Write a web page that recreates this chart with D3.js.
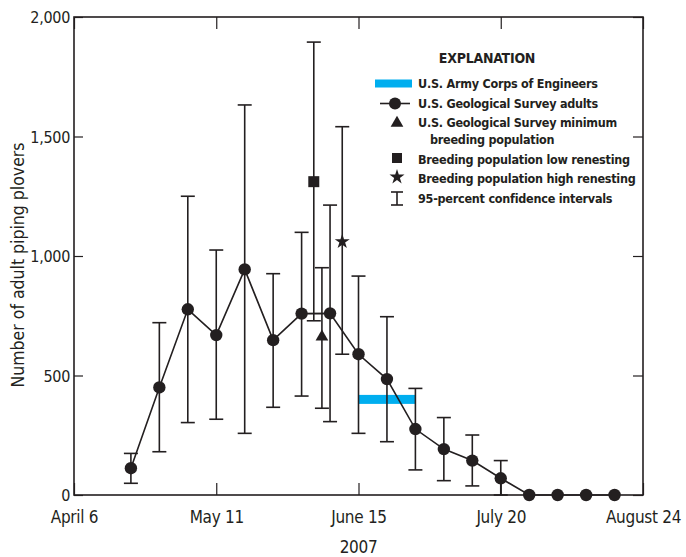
<!DOCTYPE html>
<meta charset="utf-8">
<head>
<script src="https://d3js.org/d3.v7.min.js"></script>
<style>
  body { margin: 0; background: #fff; }
  text { font-family: "Liberation Sans Narrow", "Arial Narrow", "DejaVu Sans Condensed", sans-serif; fill: #231f20; }
  .legend text { font-weight: bold; letter-spacing: -0.25px; }
</style>
</head>
<body>
<div id="chart"></div>
<script>
  // weekly survey dates and counts
  var surveyDates = ["2007-04-20", "2007-04-27", "2007-05-04", "2007-05-11", "2007-05-18", "2007-05-25",
    "2007-06-01", "2007-06-08", "2007-06-15", "2007-06-22", "2007-06-29", "2007-07-06",
    "2007-07-13", "2007-07-20", "2007-07-27", "2007-08-03", "2007-08-10", "2007-08-17"];
  var adults = [112, 450, 777, 669, 944, 648, 759, 760, 589, 485, 276, 192, 144, 70, 0, 0, 0, 0];
  var ciLow  = [49, 181, 303, 317, 258, 367, 414, 307, 258, 223, 105, 60, 38, 0, null, null, null, null];
  var ciHigh = [174, 721, 1250, 1025, 1632, 926, 1099, 1213, 916, 746, 446, 324, 251, 144, null, null, null, null];

  // single estimates: [date, value, low, high]
  var lowRenesting  = ["2007-06-04", 1311, 729, 1895];
  var minBreeding   = ["2007-06-06", 662, 363, 951];
  var highRenesting = ["2007-06-11", 1060, 589, 1541];

  // Army Corps estimate, a span of dates at one value
  var corpsStart = "2007-06-15", corpsEnd = "2007-06-29", corpsValue = 400;

  var xTicks = ["2007-04-06", "2007-05-11", "2007-06-15", "2007-07-20", "2007-08-24"];
  var yTicks = [0, 500, 1000, 1500, 2000];

  var ink = "#231f20";
  var width = 686, height = 557;
  var margin = { top: 17, right: 43, bottom: 62, left: 74 };
  var w = width - margin.left - margin.right;
  var h = height - margin.top - margin.bottom;

  var parse = d3.utcParse("%Y-%m-%d");

  var svg = d3.select("#chart").append("svg")
    .attr("width", width)
    .attr("height", height);
  var g = svg.append("g")
    .attr("transform", "translate(" + margin.left + "," + margin.top + ")");

  var x = d3.scaleUtc()
    .domain([parse(xTicks[0]), parse(xTicks[xTicks.length - 1])])
    .range([0, w]);
  var y = d3.scaleLinear().domain([0, 2000]).range([h, 0]);

  // axes, ticks pointing inward
  var fmt = d3.utcFormat("%B %-d");
  var xt = xTicks.map(parse);
  g.append("g").attr("class", "x axis")
    .attr("transform", "translate(0," + h + ")")
    .call(d3.axisBottom(x).tickValues(xt).tickSize(-12).tickSizeOuter(0).tickPadding(16).tickFormat(fmt));
  g.append("g").attr("class", "x2 axis")
    .call(d3.axisTop(x).tickValues(xt).tickSize(-12).tickSizeOuter(0).tickFormat(""));
  g.append("g").attr("class", "y axis")
    .call(d3.axisLeft(y).tickValues(yTicks).tickSize(-9).tickSizeOuter(0).tickPadding(4).tickFormat(d3.format(",")));
  g.append("g").attr("class", "y2 axis")
    .attr("transform", "translate(" + w + ",0)")
    .call(d3.axisRight(y).tickValues(yTicks).tickSize(-10).tickSizeOuter(0).tickFormat(""));

  g.selectAll(".axis .domain").remove();
  g.selectAll(".axis line").attr("stroke", ink).attr("stroke-width", 1.2);
  g.selectAll(".axis text").attr("font-size", 16).attr("fill", ink)
    .style("letter-spacing", "-0.3px")
    .style("font-family", null);
  g.selectAll(".x.axis text").attr("font-size", 17);
  g.selectAll(".y.axis text").attr("dy", "0.35em");

  g.append("rect")
    .attr("width", w).attr("height", h)
    .attr("fill", "none").attr("stroke", ink).attr("stroke-width", 1.6);

  g.append("text")
    .attr("transform", "rotate(-90)")
    .attr("x", -248).attr("y", -50)
    .attr("text-anchor", "middle")
    .attr("font-size", 17.5)
    .text("Number of adult piping plovers");

  g.append("text")
    .attr("x", x(parse("2007-06-15"))).attr("y", 536)
    .attr("text-anchor", "middle")
    .attr("font-size", 17)
    .style("letter-spacing", "-0.3px")
    .text("2007");

  // Army Corps band
  g.append("rect")
    .attr("x", x(parse(corpsStart)))
    .attr("y", y(corpsValue) - 4.5)
    .attr("width", x(parse(corpsEnd)) - x(parse(corpsStart)))
    .attr("height", 9)
    .attr("fill", "#00aeef");

  function errorBar(sel, cx, lo, hi) {
    sel.append("line").attr("x1", cx).attr("x2", cx).attr("y1", y(lo)).attr("y2", y(hi));
    sel.append("line").attr("x1", cx - 7).attr("x2", cx + 7).attr("y1", y(lo)).attr("y2", y(lo));
    sel.append("line").attr("x1", cx - 7).attr("x2", cx + 7).attr("y1", y(hi)).attr("y2", y(hi));
  }

  var bars = g.append("g").attr("stroke", ink).attr("stroke-width", 1.6);
  surveyDates.forEach(function (d, i) {
    if (ciLow[i] == null) return;
    errorBar(bars, x(parse(d)), ciLow[i], ciHigh[i]);
  });
  [lowRenesting, minBreeding, highRenesting].forEach(function (p) {
    errorBar(bars, x(parse(p[0])), p[2], p[3]);
  });

  var line = d3.line()
    .x(function (d, i) { return x(parse(surveyDates[i])); })
    .y(function (d) { return y(d); });
  g.append("path")
    .datum(adults)
    .attr("d", line)
    .attr("fill", "none")
    .attr("stroke", ink)
    .attr("stroke-width", 1.6);

  g.selectAll(".dot")
    .data(adults)
    .enter().append("circle")
    .attr("class", "dot")
    .attr("cx", function (d, i) { return x(parse(surveyDates[i])); })
    .attr("cy", function (d) { return y(d); })
    .attr("r", 6.2)
    .attr("fill", ink);

  function marker(p, type, size) {
    g.append("path")
      .attr("d", d3.symbol().type(type).size(size)())
      .attr("transform", "translate(" + x(parse(p[0])) + "," + y(p[1]) + ")")
      .attr("fill", ink);
  }
  marker(lowRenesting, d3.symbolSquare, 121);
  marker(minBreeding, d3.symbolTriangle, 70);
  marker(highRenesting, d3.symbolStar, 70);

  // legend
  var leg = svg.append("g").attr("class", "legend");
  leg.append("text").attr("x", 487).attr("y", 63).attr("text-anchor", "middle")
    .attr("font-size", 14).text("EXPLANATION");

  var rows = [
    { y: 88, label: "U.S. Army Corps of Engineers" },
    { y: 108, label: "U.S. Geological Survey adults" },
    { y: 127, label: "U.S. Geological Survey minimum" },
    { y: 144, label: "breeding population", indent: 12 },
    { y: 164, label: "Breeding population low renesting" },
    { y: 183, label: "Breeding population high renesting" },
    { y: 203, label: "95-percent confidence intervals" }
  ];
  leg.selectAll(".row").data(rows).enter().append("text")
    .attr("x", function (d) { return 418 + (d.indent || 0); })
    .attr("y", function (d) { return d.y; })
    .attr("font-size", 12.5)
    .text(function (d) { return d.label; });

  leg.append("rect").attr("x", 375).attr("y", 79.5).attr("width", 37).attr("height", 8).attr("fill", "#00aeef");
  leg.append("line").attr("x1", 380).attr("x2", 410).attr("y1", 103.5).attr("y2", 103.5)
    .attr("stroke", ink).attr("stroke-width", 1.6);
  leg.append("circle").attr("cx", 395).attr("cy", 103.5).attr("r", 6).attr("fill", ink);
  leg.append("path").attr("d", d3.symbol().type(d3.symbolTriangle).size(70)())
    .attr("transform", "translate(397,123)").attr("fill", ink);
  leg.append("path").attr("d", d3.symbol().type(d3.symbolSquare).size(100)())
    .attr("transform", "translate(397,158)").attr("fill", ink);
  leg.append("path").attr("d", d3.symbol().type(d3.symbolStar).size(70)())
    .attr("transform", "translate(397,177)").attr("fill", ink);
  var lk = leg.append("g").attr("stroke", ink).attr("stroke-width", 1.6);
  lk.append("line").attr("x1", 397).attr("x2", 397).attr("y1", 192).attr("y2", 205);
  lk.append("line").attr("x1", 391).attr("x2", 403).attr("y1", 192).attr("y2", 192);
  lk.append("line").attr("x1", 391).attr("x2", 403).attr("y1", 205).attr("y2", 205);
</script>
</body>
